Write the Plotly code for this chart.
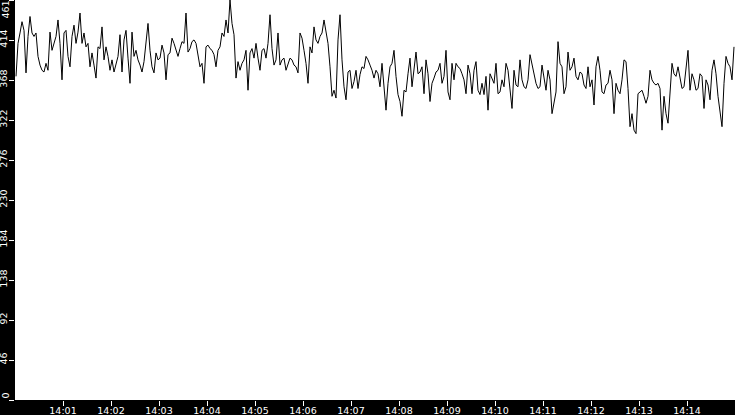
import pandas as pd
import plotly.graph_objects as go

# samples every 2.5 s in six blocks of 2.5 minutes
seg1 = [373, 411, 423, 436, 426, 377, 419, 442, 423, 419, 423, 396, 386, 380, 378, 388, 380, 424, 403, 411,
        419, 438, 411, 369, 423, 426, 396, 384, 419, 432, 411, 424, 446, 411, 423, 407, 411, 384, 400, 386,
        371, 407, 405, 430, 392, 407, 396, 380, 392, 378, 386, 396, 421, 378, 415, 426, 394, 365, 424, 396]
seg2 = [403, 392, 386, 378, 390, 417, 434, 403, 384, 377, 400, 392, 394, 409, 400, 369, 398, 400, 417, 411,
        403, 396, 405, 413, 411, 446, 401, 405, 413, 415, 411, 398, 384, 388, 365, 407, 409, 405, 403, 398,
        384, 403, 407, 423, 419, 438, 423, 461, 434, 421, 371, 390, 380, 388, 392, 403, 357, 400, 405, 394]
seg3 = [411, 394, 380, 403, 405, 394, 411, 444, 405, 386, 392, 423, 386, 392, 394, 380, 386, 394, 392, 386,
        384, 377, 423, 417, 403, 388, 365, 407, 400, 430, 415, 411, 419, 423, 438, 423, 411, 384, 350, 357,
        348, 415, 444, 392, 361, 346, 378, 380, 359, 367, 380, 359, 375, 384, 382, 396, 392, 386, 380, 371]
seg4 = [380, 376, 361, 388, 359, 334, 365, 384, 388, 403, 373, 352, 344, 327, 357, 355, 376, 394, 361, 380,
        401, 376, 378, 384, 353, 392, 376, 344, 365, 371, 378, 380, 388, 365, 373, 403, 355, 346, 388, 369,
        388, 384, 382, 376, 369, 353, 386, 376, 353, 380, 390, 357, 352, 365, 352, 373, 334, 376, 371, 365]
seg5 = [388, 353, 355, 369, 361, 388, 380, 361, 336, 380, 363, 361, 392, 369, 361, 359, 369, 398, 388, 378,
        365, 359, 361, 386, 369, 357, 380, 369, 330, 344, 355, 413, 388, 384, 353, 361, 401, 380, 384, 394,
        373, 369, 378, 376, 363, 359, 384, 361, 369, 340, 384, 396, 380, 355, 353, 363, 365, 380, 369, 330]
seg6 = [365, 357, 353, 369, 392, 390, 359, 315, 330, 311, 307, 353, 355, 357, 350, 342, 350, 380, 369, 365,
        363, 365, 359, 311, 350, 330, 319, 350, 388, 376, 373, 384, 373, 359, 361, 384, 403, 357, 376, 369,
        357, 359, 376, 373, 336, 369, 363, 346, 380, 392, 376, 350, 334, 315, 365, 396, 388, 384, 369, 407]

y_ticks = [0, 46.1, 92.2, 138.3, 184.4, 230.5, 276.6, 322.7, 368.8, 414.9, 461]
y_labels = ["0", "46", "92", "138", "184", "230", "276", "322", "368", "414", "461"]

values = seg1 + seg2 + seg3 + seg4 + seg5 + seg6
times = pd.date_range("2024-01-01 14:00:01.250", periods=len(values), freq="2500ms")
x_ticks = pd.date_range("2024-01-01 14:01", "2024-01-01 14:14", freq="1min")

fig = go.Figure(go.Scatter(x=times, y=values, mode="lines",
                           line=dict(color="black", width=1), hoverinfo="x+y"))

fig.update_layout(
    width=735, height=415,
    margin=dict(l=15, r=0, t=0, b=15),
    paper_bgcolor="black", plot_bgcolor="white",
    showlegend=False,
    font=dict(family="DejaVu Sans", size=9.5, color="white"),
)
fig.update_xaxes(range=["2024-01-01 14:00:00", "2024-01-01 14:15:00"],
                 tickvals=x_ticks, tickformat="%H:%M", ticks="outside", ticklen=5,
                 tickcolor="white", showgrid=False, zeroline=False, showline=False,
                 automargin=False, ticklabelstandoff=-3,
                 tickfont=dict(color="white", size=9.5))
# end labels are drawn as annotations so they stay inside the page
inner = [t if 0 < i < len(y_labels) - 1 else "" for i, t in enumerate(y_labels)]
fig.update_yaxes(range=[0, 461], tickvals=y_ticks, ticktext=inner, tickangle=-90,
                 ticks="outside", ticklen=5, tickcolor="white", showgrid=False,
                 zeroline=False, showline=False, automargin=False, ticklabelstandoff=-2,
                 tickfont=dict(color="white", size=9.5))
for val, txt, anchor in [(y_ticks[0], y_labels[0], "bottom"), (y_ticks[-1], y_labels[-1], "top")]:
    fig.add_annotation(x=0, xref="paper", xanchor="right", xshift=-4, y=val, yref="y",
                       yanchor=anchor, text=txt, textangle=-90, showarrow=False,
                       font=dict(color="white", size=9.5), borderpad=0)

# the page body has an 8px margin by default, drop it so the chart sits at 0,0
fig.write_html("out.html", post_script="document.body.style.margin='0px';",
               config={"displayModeBar": False})
